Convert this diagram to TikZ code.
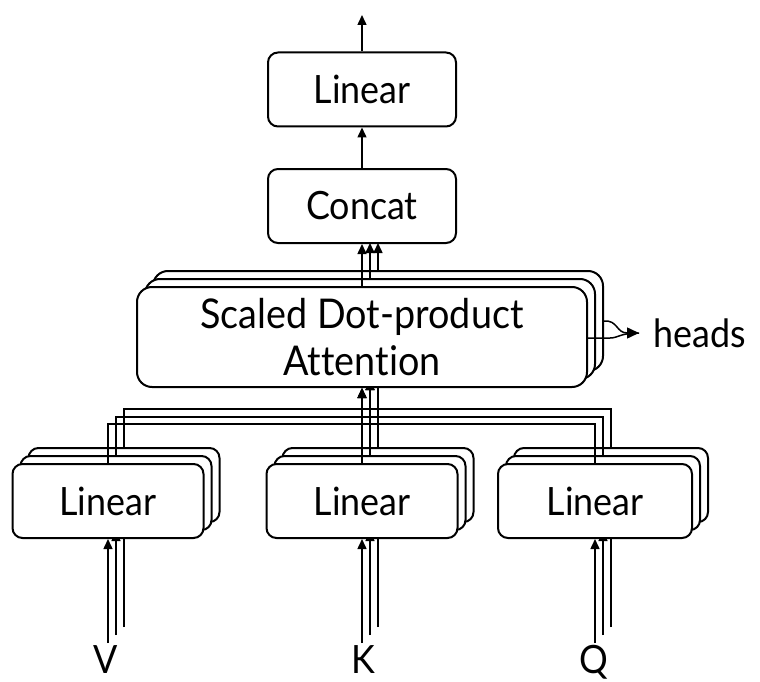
\documentclass[tikz,border=0pt]{standalone}
\usepackage{fontspec}
\setmainfont{Lato}[FakeStretch=0.92, Ligatures={NoCommon,NoRare,NoDiscretionary}]
\usetikzlibrary{arrows.meta}
\tikzset{
  blk/.style={draw, line width=2pt, fill=white, rounded corners=10pt, inner sep=0pt,
    font=\fontsize{39}{47}\selectfont},
  smallblk/.style={blk, minimum width=191pt, minimum height=74pt},
  attblk/.style={blk, rounded corners=15pt, minimum width=450pt, minimum height=100pt, align=center,
    font=\fontsize{41}{47}\selectfont},
  topblk/.style={blk, minimum width=188pt, minimum height=74pt},
  wire/.style={line width=1.5pt, -{Triangle[length=10pt,width=9pt]}},
  plain/.style={line width=1.5pt},
  lbl/.style={font=\fontsize{39}{47}\selectfont, inner sep=0pt},
}
\begin{document}
\begin{tikzpicture}[x=1pt,y=-1pt]
\useasboundingbox (0,0) rectangle (760,682);

% input points below the three linear stacks
\coordinate (vinB) at (124,627); \coordinate (vinM) at (116,635); \coordinate (vinF) at (108,643);
\coordinate (kinB) at (378,627); \coordinate (kinM) at (370,635); \coordinate (kinF) at (362,643);
\coordinate (qinB) at (611,627); \coordinate (qinM) at (603,635); \coordinate (qinF) at (595,643);

% ---- back layer ----
\node[smallblk] (vB) at (124,485) {};
\node[smallblk] (kB) at (378,485) {};
\node[smallblk, minimum width=194pt] (qB) at (611,485) {};
\node[attblk] (attB) at (378,321) {};
\draw[wire] (vinB) -- (vB);
\draw[wire] (kinB) -- (kB);
\draw[wire] (qinB) -- (qB);
\draw[wire] (vB.north) -- ++(0,-38) -| (attB.south);
\draw[wire] (qB.north) -- ++(0,-38) -| (attB.south);
\draw[wire] (kB.north) -- (attB.south);
\coordinate (cB) at (378,243);
\draw[wire] (attB.north) -- (cB);

% ---- middle layer ----
\node[smallblk] (vM) at (116,493) {};
\node[smallblk] (kM) at (370,493) {};
\node[smallblk, minimum width=194pt] (qM) at (603,493) {};
\node[attblk] (attM) at (370,329) {};
\draw[wire] (vinM) -- (vM);
\draw[wire] (kinM) -- (kM);
\draw[wire] (qinM) -- (qM);
\draw[wire] (vM.north) -- ++(0,-38) -| (attM.south);
\draw[wire] (qM.north) -- ++(0,-38) -| (attM.south);
\draw[wire] (kM.north) -- (attM.south);
\coordinate (cM) at (370,243);
\draw[wire] (attM.north) -- (cM);

% ---- front layer ----
\node[smallblk] (vF) at (108,501) {Linear};
\node[smallblk] (kF) at (362,501) {Linear};
\node[smallblk, minimum width=194pt] (qF) at (595,501) {Linear};
\node[attblk] (attF) at (362,337) {Scaled Dot-product\\Attention};
\draw[wire] (vinF) -- (vF);
\draw[wire] (kinF) -- (kF);
\draw[wire] (qinF) -- (qF);
\draw[wire] (vF.north) -- ++(0,-39) -| (attF.south);
\draw[wire] (qF.north) -- ++(0,-39) -| (attF.south);
\draw[wire] (kF.north) -- (attF.south);

% ---- output part ----
\node[topblk] (cat) at (362,206) {Concat};
\node[topblk] (lin) at (362,89.5) {Linear};
\draw[wire] (attF.north) -- (cat.south);
\draw[wire] (cat.north) -- (lin.south);
\coordinate (out) at (362,15);
\draw[wire] (lin.north) -- (out);

% ---- heads ----
\coordinate (hd) at (639,333);
\draw[plain] (attF.east) ++(0,1) -- ++(22,0) .. controls (618,338) and (620,333) .. (hd);
\draw[line width=1.5pt, -{Triangle[length=12pt,width=11pt]}] (attB.east) .. controls (618,320) and (616,333) .. (hd);
\node[lbl, anchor=west] (heads) at (653,333) {heads};

% ---- input labels ----
\node[lbl, anchor=north] (vl) at (106,645) {V};
\node[lbl, anchor=north] (kl) at (363,645) {K};
\node[lbl, anchor=north] (ql) at (594,645) {Q};
\end{tikzpicture}
\end{document}
